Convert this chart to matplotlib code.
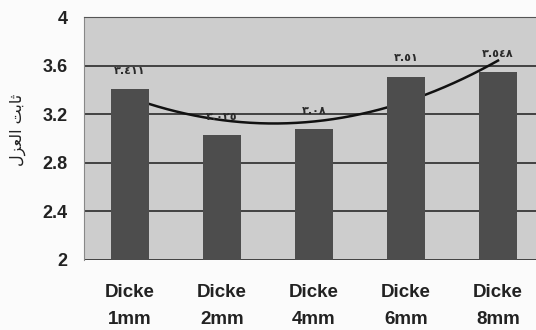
import numpy as np
import matplotlib
matplotlib.use('Agg')
import matplotlib.pyplot as plt

# values of the bars (dielectric constant)
categories = ['Dicke\n1mm', 'Dicke\n2mm', 'Dicke\n4mm', 'Dicke\n6mm', 'Dicke\n8mm']
values = [3.411, 3.025, 3.08, 3.51, 3.548]
value_labels = ['٣.٤١١', '٣.٠٢٥', '٣.٠٨', '٣.٥١', '٣.٥٤٨']
yticks = [2, 2.4, 2.8, 3.2, 3.6, 4]
ytick_labels = ['2', '2.4', '2.8', '3.2', '3.6', '4']
# "ثابت العزل" written in shaped forms, visual order, since matplotlib does no arabic shaping
ylabel = '\uFEDD\uFEB0\uFECC\uFEDF\uFE8D \uFE96\uFE91\uFE8E\uFE9B'

plt.rcParams['font.family'] = ['Liberation Sans', 'DejaVu Sans']

fig = plt.figure(figsize=(5.36, 3.3), dpi=100, facecolor='#fbfbfb')
ax = fig.add_axes([84/536, 1-260/330, 460/536, 243/330])
ax.set_facecolor('#cdcdcd')

x = np.arange(len(values))
ax.bar(x, values, width=0.41, color='#4d4d4d', zorder=3)

# 2nd order trendline
p = np.polyfit(x, values, 2)
xs = np.linspace(0, len(values)-1, 200)
ax.plot(xs, np.polyval(p, xs), color='#111111', lw=1.8, zorder=2)

for xi, v, lab in zip(x, values, value_labels):
    ax.annotate(lab, (xi, v), xytext=(0, 13), textcoords='offset points',
                ha='center', va='center', fontsize=8, fontweight='bold',
                color='#2a2a2a', family='DejaVu Sans', zorder=4)

ax.set_ylim(2, 4)
ax.set_xlim(-0.5, len(values)-0.5)
ax.set_yticks(yticks)
ax.set_yticklabels(ytick_labels, fontsize=13, fontweight='bold', color='#222222')
ax.set_xticks(x)
ax.set_xticklabels(categories, fontsize=13.5, fontweight='bold', color='#222222',
                   linespacing=1.8)
ax.tick_params(axis='both', length=0)
ax.tick_params(axis='y', pad=12)
ax.tick_params(axis='x', pad=17)
ax.yaxis.grid(True, color='#2a2a2a', lw=1.2, zorder=1)
ax.set_axisbelow(True)
for s in ['right', 'bottom']:
    ax.spines[s].set_visible(False)
ax.spines['top'].set_color('#555555')
ax.spines['left'].set_color('#888888')

fig.text(18/536, 1-130/330, ylabel, rotation=90, ha='center', va='center',
         fontsize=11.5, family='DejaVu Sans', color='#222222')

plt.savefig('out.png', dpi=100, facecolor=fig.get_facecolor())
